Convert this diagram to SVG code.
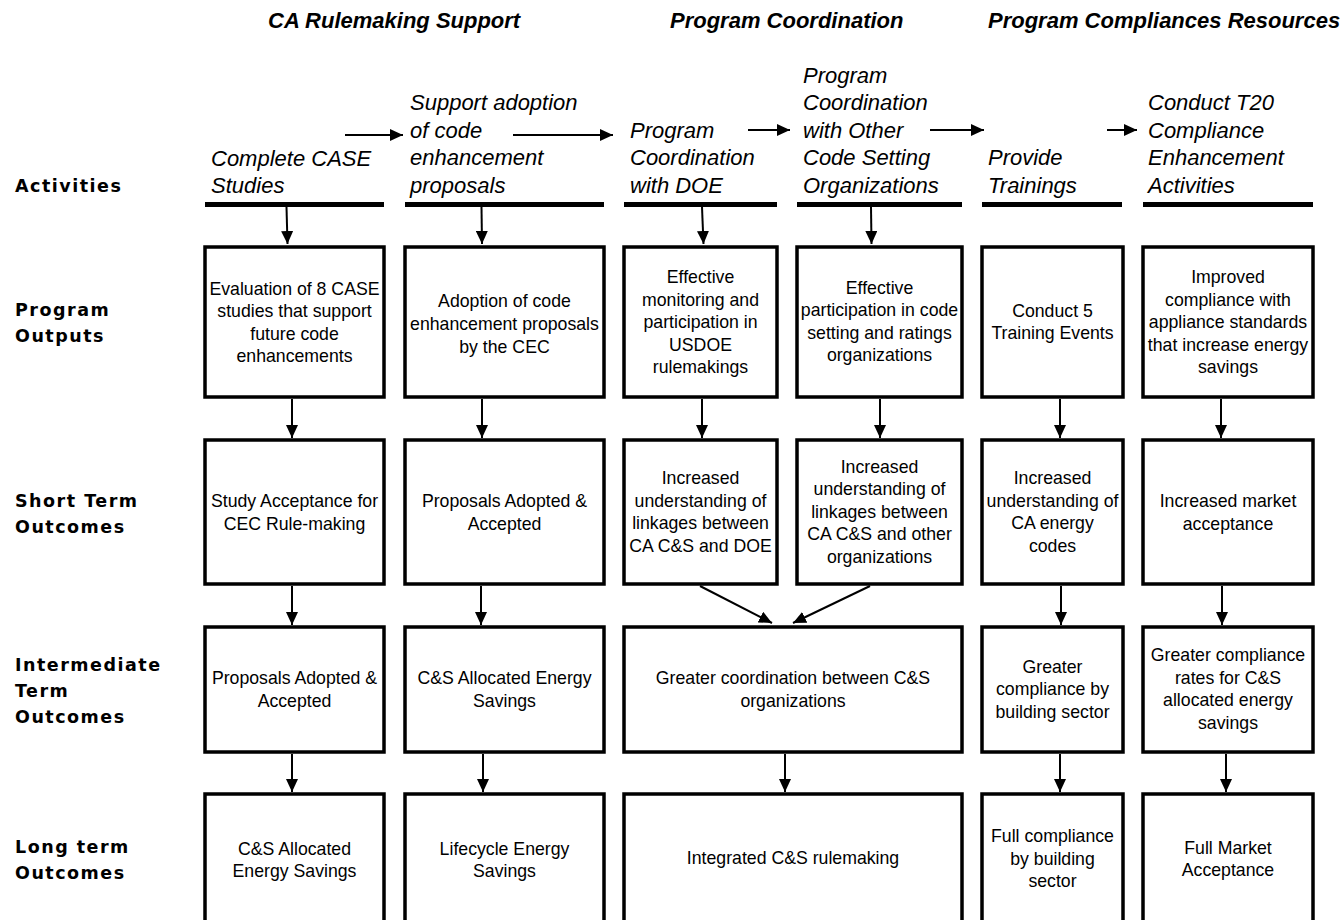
<svg xmlns="http://www.w3.org/2000/svg" width="1344" height="920" viewBox="0 0 1344 920">
<style>
.title{font-family:"Liberation Sans",Arial,sans-serif;font-size:22px;font-weight:bold;font-style:italic;fill:#000}
.row{font-family:"DejaVu Sans",Verdana,sans-serif;font-size:17.5px;font-weight:bold;letter-spacing:1.5px;fill:#000}
.act{font-family:"Liberation Sans",Arial,sans-serif;font-size:22px;font-style:italic;fill:#000}
.box{fill:#fff;stroke:#000;stroke-width:3.5}
.bar{fill:#000}
.t{font-family:"Liberation Sans",Arial,sans-serif;font-size:17.7px;fill:#000;text-anchor:middle}
.con{stroke:#000;stroke-width:2;fill:none;marker-end:url(#ah)}
</style>
<defs>
<marker id="ah" markerUnits="userSpaceOnUse" markerWidth="13" markerHeight="12" refX="13" refY="6" orient="auto">
<path d="M0,0 L13,6 L0,12 z" fill="#000"/>
</marker>
</defs>
<rect width="1344" height="920" fill="#fff"/>

<g id="titles">
<text class="title" x="268" y="28">CA Rulemaking Support</text>
<text class="title" x="670" y="28">Program Coordination</text>
<text class="title" x="988" y="28">Program Compliances Resources</text>
</g>

<g id="row-labels">
<text class="row" x="15" y="192">Activities</text>
<text class="row" x="15" y="316">Program</text>
<text class="row" x="15" y="342">Outputs</text>
<text class="row" x="15" y="507">Short Term</text>
<text class="row" x="15" y="533">Outcomes</text>
<text class="row" x="15" y="671">Intermediate</text>
<text class="row" x="15" y="697">Term</text>
<text class="row" x="15" y="723">Outcomes</text>
<text class="row" x="15" y="853">Long term</text>
<text class="row" x="15" y="879">Outcomes</text>
</g>

<g id="activity-1">
<text class="act" x="211" y="166">Complete CASE</text>
<text class="act" x="211" y="193">Studies</text>
<rect class="bar" x="205" y="202" width="179" height="5"/>
</g>
<g id="activity-2">
<text class="act" x="410" y="110">Support adoption</text>
<text class="act" x="410" y="137.5">of code</text>
<text class="act" x="410" y="165">enhancement</text>
<text class="act" x="410" y="192.5">proposals</text>
<rect class="bar" x="405" y="202" width="199" height="5"/>
</g>
<g id="activity-3">
<text class="act" x="630" y="137.5">Program</text>
<text class="act" x="630" y="165">Coordination</text>
<text class="act" x="630" y="192.5">with DOE</text>
<rect class="bar" x="624" y="202" width="153" height="5"/>
</g>
<g id="activity-4">
<text class="act" x="803" y="82.5">Program</text>
<text class="act" x="803" y="110">Coordination</text>
<text class="act" x="803" y="137.5">with Other</text>
<text class="act" x="803" y="165">Code Setting</text>
<text class="act" x="803" y="192.5">Organizations</text>
<rect class="bar" x="797" y="202" width="165" height="5"/>
</g>
<g id="activity-5">
<text class="act" x="988" y="165">Provide</text>
<text class="act" x="988" y="192.5">Trainings</text>
<rect class="bar" x="982" y="202" width="140" height="5"/>
</g>
<g id="activity-6">
<text class="act" x="1148" y="110">Conduct T20</text>
<text class="act" x="1148" y="137.5">Compliance</text>
<text class="act" x="1148" y="165">Enhancement</text>
<text class="act" x="1148" y="192.5">Activities</text>
<rect class="bar" x="1143" y="202" width="170" height="5"/>
</g>

<g id="output-1"><rect class="box" x="205" y="247" width="179" height="150"/>
<text class="t" x="294.5" y="294.5">Evaluation of 8 CASE</text><text class="t" x="294.5" y="317">studies that support</text><text class="t" x="294.5" y="339.5">future code</text><text class="t" x="294.5" y="362">enhancements</text></g>
<g id="output-2"><rect class="box" x="405" y="247" width="199" height="150"/>
<text class="t" x="504.5" y="307">Adoption of code</text><text class="t" x="504.5" y="330">enhancement proposals</text><text class="t" x="504.5" y="353">by the CEC</text></g>
<g id="output-3"><rect class="box" x="624" y="247" width="153" height="150"/>
<text class="t" x="700.5" y="283">Effective</text><text class="t" x="700.5" y="305.5">monitoring and</text><text class="t" x="700.5" y="328">participation in</text><text class="t" x="700.5" y="350.5">USDOE</text><text class="t" x="700.5" y="373">rulemakings</text></g>
<g id="output-4"><rect class="box" x="797" y="247" width="165" height="150"/>
<text class="t" x="879.5" y="293.5">Effective</text><text class="t" x="879.5" y="316">participation in code</text><text class="t" x="879.5" y="338.5">setting and ratings</text><text class="t" x="879.5" y="361">organizations</text></g>
<g id="output-5"><rect class="box" x="982" y="247" width="141" height="150"/>
<text class="t" x="1052.5" y="316.5">Conduct 5</text><text class="t" x="1052.5" y="339">Training Events</text></g>
<g id="output-6"><rect class="box" x="1143" y="247" width="170" height="150"/>
<text class="t" x="1228" y="283">Improved</text><text class="t" x="1228" y="305.5">compliance with</text><text class="t" x="1228" y="328">appliance standards</text><text class="t" x="1228" y="350.5">that increase energy</text><text class="t" x="1228" y="373">savings</text></g>

<g id="short-1"><rect class="box" x="205" y="440" width="179" height="144"/>
<text class="t" x="294.5" y="507">Study Acceptance for</text><text class="t" x="294.5" y="529.5">CEC Rule-making</text></g>
<g id="short-2"><rect class="box" x="405" y="440" width="199" height="144"/>
<text class="t" x="504.5" y="507">Proposals Adopted &amp;</text><text class="t" x="504.5" y="529.5">Accepted</text></g>
<g id="short-3"><rect class="box" x="624" y="440" width="153" height="144"/>
<text class="t" x="700.5" y="484">Increased</text><text class="t" x="700.5" y="506.5">understanding of</text><text class="t" x="700.5" y="529">linkages between</text><text class="t" x="700.5" y="551.5">CA C&amp;S and DOE</text></g>
<g id="short-4"><rect class="box" x="797" y="440" width="165" height="144"/>
<text class="t" x="879.5" y="472.5">Increased</text><text class="t" x="879.5" y="495">understanding of</text><text class="t" x="879.5" y="517.5">linkages between</text><text class="t" x="879.5" y="540">CA C&amp;S and other</text><text class="t" x="879.5" y="562.5">organizations</text></g>
<g id="short-5"><rect class="box" x="982" y="440" width="141" height="144"/>
<text class="t" x="1052.5" y="484">Increased</text><text class="t" x="1052.5" y="506.5">understanding of</text><text class="t" x="1052.5" y="529">CA energy</text><text class="t" x="1052.5" y="551.5">codes</text></g>
<g id="short-6"><rect class="box" x="1143" y="440" width="170" height="144"/>
<text class="t" x="1228" y="507">Increased market</text><text class="t" x="1228" y="529.5">acceptance</text></g>

<g id="inter-1"><rect class="box" x="205" y="627" width="179" height="125"/>
<text class="t" x="294.5" y="684">Proposals Adopted &amp;</text><text class="t" x="294.5" y="706.5">Accepted</text></g>
<g id="inter-2"><rect class="box" x="405" y="627" width="199" height="125"/>
<text class="t" x="504.5" y="684">C&amp;S Allocated Energy</text><text class="t" x="504.5" y="706.5">Savings</text></g>
<g id="inter-3"><rect class="box" x="624" y="627" width="338" height="125"/>
<text class="t" x="793" y="684">Greater coordination between C&amp;S</text><text class="t" x="793" y="706.5">organizations</text></g>
<g id="inter-5"><rect class="box" x="982" y="627" width="141" height="125"/>
<text class="t" x="1052.5" y="672.5">Greater</text><text class="t" x="1052.5" y="695">compliance by</text><text class="t" x="1052.5" y="717.5">building sector</text></g>
<g id="inter-6"><rect class="box" x="1143" y="627" width="170" height="125"/>
<text class="t" x="1228" y="661">Greater compliance</text><text class="t" x="1228" y="683.5">rates for C&amp;S</text><text class="t" x="1228" y="706">allocated energy</text><text class="t" x="1228" y="728.5">savings</text></g>

<g id="long-1"><rect class="box" x="205" y="794" width="179" height="140"/>
<text class="t" x="294.5" y="855">C&amp;S Allocated</text><text class="t" x="294.5" y="877">Energy Savings</text></g>
<g id="long-2"><rect class="box" x="405" y="794" width="199" height="140"/>
<text class="t" x="504.5" y="855">Lifecycle Energy</text><text class="t" x="504.5" y="877">Savings</text></g>
<g id="long-3"><rect class="box" x="624" y="794" width="338" height="140"/>
<text class="t" x="793" y="864">Integrated C&amp;S rulemaking</text></g>
<g id="long-5"><rect class="box" x="982" y="794" width="141" height="140"/>
<text class="t" x="1052.5" y="842">Full compliance</text><text class="t" x="1052.5" y="864.5">by building</text><text class="t" x="1052.5" y="887">sector</text></g>
<g id="long-6"><rect class="box" x="1143" y="794" width="170" height="140"/>
<text class="t" x="1228" y="854">Full Market</text><text class="t" x="1228" y="876">Acceptance</text></g>

<g id="connectors">
<line class="con" x1="345" y1="135" x2="403" y2="135"/>
<line class="con" x1="513" y1="135" x2="613" y2="135"/>
<line class="con" x1="748" y1="130" x2="790" y2="130"/>
<line class="con" x1="930" y1="130" x2="984" y2="130"/>
<line class="con" x1="1107" y1="130" x2="1137" y2="130"/>

<line class="con" x1="286.5" y1="207" x2="287.5" y2="244"/>
<line class="con" x1="481.5" y1="207" x2="482" y2="244"/>
<line class="con" x1="702" y1="207" x2="703.5" y2="244"/>
<line class="con" x1="871" y1="207" x2="871.5" y2="244"/>

<line class="con" x1="292" y1="399" x2="292" y2="438"/>
<line class="con" x1="482" y1="399" x2="482" y2="438"/>
<line class="con" x1="702" y1="399" x2="702" y2="438"/>
<line class="con" x1="880" y1="399" x2="880" y2="438"/>
<line class="con" x1="1060" y1="399" x2="1060" y2="438"/>
<line class="con" x1="1221" y1="399" x2="1221" y2="438"/>

<line class="con" x1="292" y1="586" x2="292" y2="625"/>
<line class="con" x1="481" y1="586" x2="481" y2="625"/>
<line class="con" x1="700" y1="586" x2="772" y2="623"/>
<line class="con" x1="870" y1="586" x2="793" y2="623"/>
<line class="con" x1="1061" y1="586" x2="1061" y2="625"/>
<line class="con" x1="1222" y1="586" x2="1222" y2="625"/>

<line class="con" x1="292" y1="754" x2="292" y2="792"/>
<line class="con" x1="483" y1="754" x2="483" y2="792"/>
<line class="con" x1="785" y1="754" x2="785" y2="792"/>
<line class="con" x1="1060" y1="754" x2="1060" y2="792"/>
<line class="con" x1="1226" y1="754" x2="1226" y2="792"/>
</g>
</svg>
